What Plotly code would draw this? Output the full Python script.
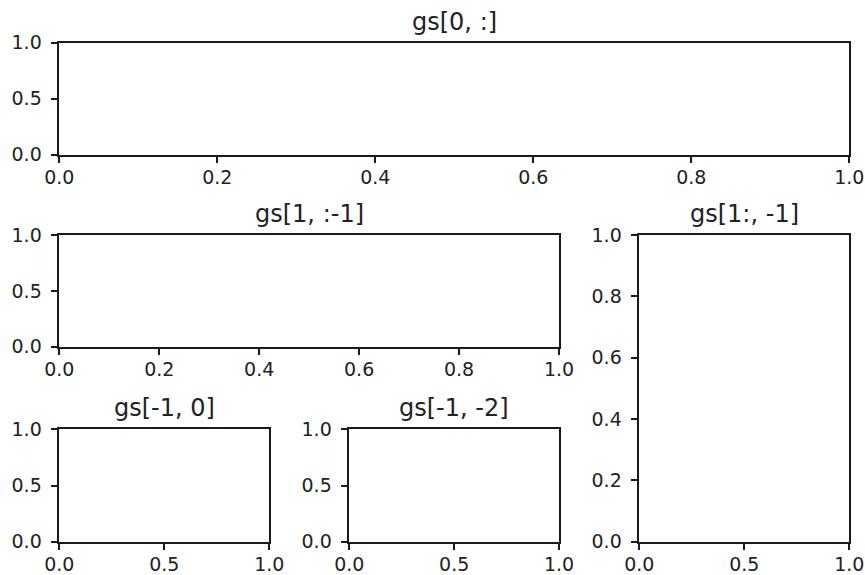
import plotly.graph_objects as go

W, H = 865, 575

# Panel titles (gridspec slices)
titles = ["gs[0, :]", "gs[1, :-1]", "gs[1:, -1]", "gs[-1, 0]", "gs[-1, -2]"]
# Axis tick values for each panel
x_ticks = [
    [0.0, 0.2, 0.4, 0.6, 0.8, 1.0],
    [0.0, 0.2, 0.4, 0.6, 0.8, 1.0],
    [0.0, 0.5, 1.0],
    [0.0, 0.5, 1.0],
    [0.0, 0.5, 1.0],
]
y_ticks = [
    [0.0, 0.5, 1.0],
    [0.0, 0.5, 1.0],
    [0.0, 0.2, 0.4, 0.6, 0.8, 1.0],
    [0.0, 0.5, 1.0],
    [0.0, 0.5, 1.0],
]
axis_range = [0.0, 1.0]

# pixel boxes of the axes in the screenshot: (left, right, top, bottom)
boxes = [
    (59.3, 849.3, 42.7, 154.7),
    (59.3, 559.0, 235.0, 346.7),
    (639.3, 849.3, 235.0, 541.7),
    (59.3, 269.3, 429.3, 541.7),
    (349.3, 559.0, 429.3, 541.7),
]

FONT = "DejaVu Sans"
TICK_SIZE = 19
TITLE_SIZE = 24
LINE_COLOR = "#1a1a1a"

fig = go.Figure()
annotations = []
for i, (l, r, t, b) in enumerate(boxes):
    n = "" if i == 0 else str(i + 1)
    xd = [l / W, r / W]
    yd = [1 - b / H, 1 - t / H]
    fig.add_trace(go.Scatter(x=[], y=[], xaxis="x" + n, yaxis="y" + n,
                             showlegend=False))
    common = dict(
        range=axis_range, showgrid=False, zeroline=False,
        showline=True, linecolor=LINE_COLOR, linewidth=1.5, mirror=True,
        ticks="outside", ticklen=7, tickwidth=1.5, tickcolor=LINE_COLOR,
        tickformat=".1f", automargin=False,
        tickfont=dict(family=FONT, size=TICK_SIZE, color="#222"),
        fixedrange=True,
    )
    fig.layout["xaxis" + n] = dict(common, domain=xd, anchor="y" + n,
                                   tickvals=x_ticks[i], ticklabelstandoff=-2)
    fig.layout["yaxis" + n] = dict(common, domain=yd, anchor="x" + n,
                                   tickvals=y_ticks[i], ticklabelstandoff=5)
    annotations.append(dict(
        text=titles[i], x=(xd[0] + xd[1]) / 2, y=yd[1],
        xref="paper", yref="paper", xanchor="center", yanchor="bottom",
        yshift=5, showarrow=False,
        font=dict(family=FONT, size=TITLE_SIZE, color="#222"),
    ))

fig.update_layout(
    width=W, height=H,
    margin=dict(l=0, r=0, t=0, b=0),
    paper_bgcolor="white", plot_bgcolor="white",
    annotations=annotations,
)

fig.write_html("out.html", config={"displayModeBar": False},
               post_script="document.body.style.margin='0';")
